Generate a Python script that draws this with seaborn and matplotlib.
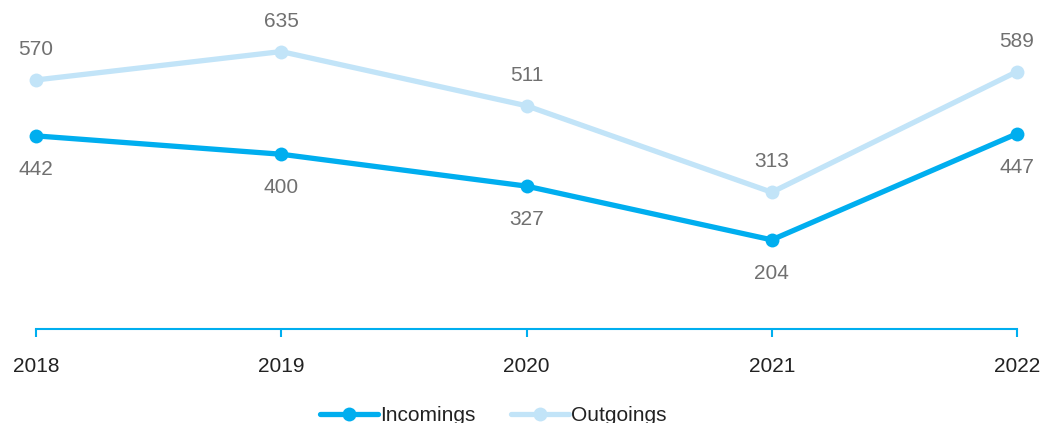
import pandas as pd
import seaborn as sns
import matplotlib.pyplot as plt

years = [2018, 2019, 2020, 2021, 2022]
incomings = [442, 400, 327, 204, 447]
outgoings = [570, 635, 511, 313, 589]

df = pd.DataFrame({
    "year": years * 2,
    "value": incomings + outgoings,
    "series": ["Incomings"] * 5 + ["Outgoings"] * 5,
})

sns.set_theme(style="white")
plt.rcParams["font.family"] = ["Liberation Sans", "DejaVu Sans"]

colors = {"Incomings": "#00AEEF", "Outgoings": "#C2E4F8"}

fig = plt.figure(figsize=(10.45, 4.23), dpi=100)
ax = fig.add_axes([36 / 1045, 94 / 423, 981 / 1045, 329 / 423])

# draw outgoings first so incomings sit on top
sns.lineplot(data=df, x="year", y="value", hue="series",
             hue_order=["Outgoings", "Incomings"], palette=colors,
             marker="o", markersize=10, markeredgewidth=0, linewidth=3.8,
             ax=ax, legend=False)
for ln in ax.lines:
    ln.set_clip_on(False)

for x, v in zip(years, outgoings):
    ax.annotate(str(v), (x, v), xytext=(0, 22), textcoords="offset points",
                ha="center", va="center", fontsize=15, color="#707070")
for x, v in zip(years, incomings):
    ax.annotate(str(v), (x, v), xytext=(0, -24), textcoords="offset points",
                ha="center", va="center", fontsize=15, color="#707070")

ax.set_xlim(2018, 2022)
ax.set_ylim(0, 753)
ax.set_xticks(years)
ax.set_xticklabels([str(y) for y in years], fontsize=15, color="#222222")
ax.set_yticks([])
ax.set_xlabel("")
ax.set_ylabel("")
for s in ["top", "right", "left"]:
    ax.spines[s].set_visible(False)
ax.spines["bottom"].set_color("#00AEEF")
ax.spines["bottom"].set_linewidth(1.5)
ax.spines["bottom"].set_clip_on(False)
ax.tick_params(axis="x", direction="out", length=6, width=1.5,
               color="#00AEEF", pad=14, bottom=True)

handles = [
    plt.Line2D([], [], color=colors["Incomings"], lw=3.8, marker="o",
               markersize=10, markeredgewidth=0),
    plt.Line2D([], [], color=colors["Outgoings"], lw=3.8, marker="o",
               markersize=10, markeredgewidth=0),
]
fig.legend(handles, ["Incomings", "Outgoings"], loc="center",
           bbox_to_anchor=(0.472, 0.018), ncol=2, frameon=False,
           fontsize=15, handlelength=2.8, handletextpad=0.1,
           columnspacing=1.7, labelcolor="#222222")

fig.savefig("out.png", dpi=100)
